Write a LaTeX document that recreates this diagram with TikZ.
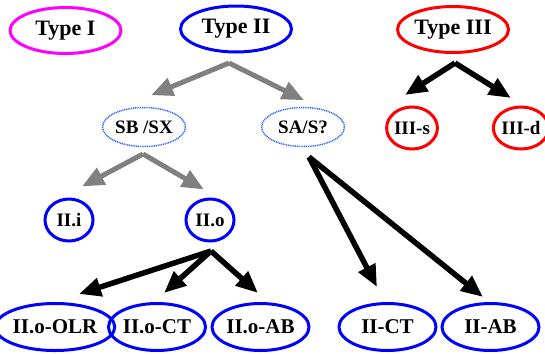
\documentclass[tikz,border=0pt]{standalone}
\usepackage{fontspec}
\setmainfont{Liberation Serif}
\usetikzlibrary{arrows.meta,shapes.geometric}

\definecolor{typeone}{RGB}{255,0,255}
\definecolor{typetwo}{RGB}{0,0,255}
\definecolor{typethree}{RGB}{255,0,0}
\definecolor{dotblue}{RGB}{40,100,255}
\definecolor{arrowgray}{RGB}{128,128,128}

\tikzset{
	kind/.style={ellipse, draw, line width=3bp, inner sep=0pt, font=\bfseries\fontsize{22bp}{24bp}\selectfont,
		minimum width=111bp, minimum height=46bp},
	guess/.style={ellipse, draw=dotblue, line width=1.5bp, dash pattern=on 1bp off 0.8bp, inner sep=0pt,
		font=\bfseries\fontsize{19bp}{21bp}\selectfont, minimum width=83bp, minimum height=39bp},
	small/.style={ellipse, draw, line width=3bp, inner sep=0pt, font=\bfseries\fontsize{19bp}{21bp}\selectfont,
		minimum width=48bp, minimum height=42bp},
	leaf/.style={ellipse, draw=typetwo, line width=3bp, inner sep=0pt, font=\bfseries\fontsize{21bp}{23bp}\selectfont,
		minimum width=97bp, minimum height=47bp},
	garrow/.style={draw=arrowgray, line width=5bp, -{Triangle[length=22bp,width=18bp,fill=arrowgray]}},
	karrow/.style={draw=black, line width=5.5bp, -{Triangle[length=22bp,width=18bp]}}
}

\begin{document}
\begin{tikzpicture}[x=1bp, y=-1bp]
	\useasboundingbox (0,0) rectangle (545,354);

	% top row
	\node [kind, draw=typeone] (t1) at (65.5,30.5) {Type I};
	\node [kind, draw=typetwo] (t2) at (236,29) {Type II};
	\node [kind, draw=typethree] (t3) at (453,29.5) {Type III};

	% second row
	\node [guess] (sbsx) at (144,127) {SB /SX};
	\node [guess] (sas) at (303,127) {SA/S?};
	\node [small, draw=typethree] (iiis) at (412,128) {III-s};
	\node [small, draw=typethree] (iiid) at (521,128) {III-d};

	% third row
	\node [small, draw=typetwo] (iii) at (69,220) {II.i};
	\node [small, draw=typetwo] (iio) at (210,220) {II.o};

	% bottom row
	\node [leaf] (olr) at (55,327) {II.o-OLR};
	\node [leaf] (oct) at (157,327) {II.o-CT};
	\node [leaf] (oab) at (260.5,327) {II.o-AB};
	\node [leaf] (ct) at (387.5,327) {II-CT};
	\node [leaf] (ab) at (490.5,327) {II-AB};

	% forks
	\coordinate (f2) at (229,63);
	\coordinate (f3) at (455,63);
	\coordinate (fsb) at (143,154);
	\coordinate (fsa) at (309,157);
	\coordinate (fo) at (211,251);

	\draw [garrow] (f2) -- ([shift={(7,-11.5)}]sbsx.north);
	\draw [garrow] (f2) -- ([shift={(1,-6.5)}]sas.north);
	\draw [garrow] (fsb) -- ([shift={(13,-11)}]iii.north);
	\draw [garrow] (fsb) -- ([shift={(-6,-8)}]iio.north);

	\draw [karrow] (f3) -- ([shift={(-7,-10.5)}]iiis.north);
	\draw [karrow] (f3) -- ([shift={(-10,-7.5)}]iiid.north);
	\draw [karrow] (fsa) -- ([shift={(-10.5,-15)}]ct.north);
	\draw [karrow] (fsa) -- ([shift={(-7.5,-5)}]ab.north);
	\draw [karrow] (fo) -- ([shift={(24,-8)}]olr.north);
	\draw [karrow] (fo) -- ([shift={(7,-9)}]oct.north);
	\draw [karrow] (fo) -- ([shift={(-2.5,-9)}]oab.north);
\end{tikzpicture}
\end{document}
